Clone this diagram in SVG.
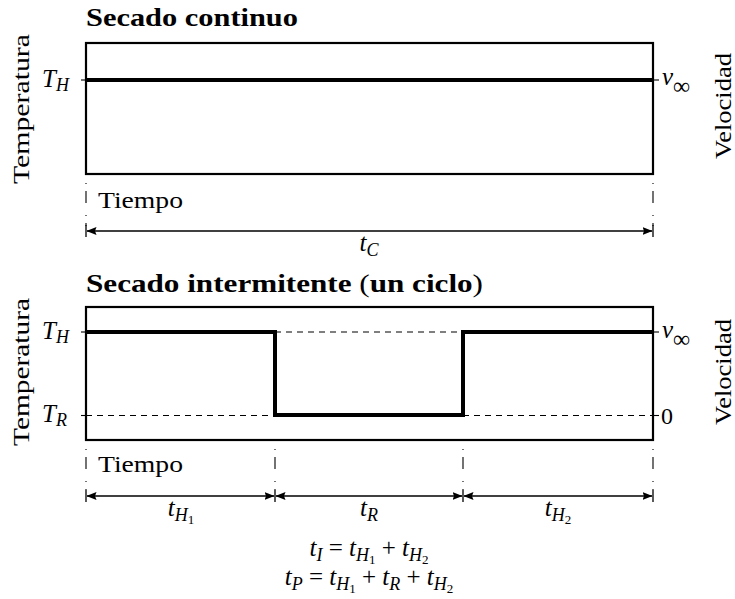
<svg xmlns="http://www.w3.org/2000/svg" width="735" height="599" viewBox="0 0 735 599">
<defs>
<marker id="arr" viewBox="0 0 10 8" refX="9.5" refY="4" markerWidth="10" markerHeight="8" markerUnits="userSpaceOnUse" orient="auto-start-reverse">
<path d="M0,0 L10,4 L0,8 L1.5,4 Z" fill="#000"/>
</marker>
</defs>

<g id="panel-continuo">
<text x="86" y="26" font-family="Times New Roman" font-size="25" font-weight="bold" textLength="212" lengthAdjust="spacingAndGlyphs">Secado continuo</text>
<rect x="86" y="43" width="567" height="131" fill="none" stroke="#000" stroke-width="2.2"/>
<line x1="86" y1="80" x2="653" y2="80" stroke="#000" stroke-width="4"/>
<g stroke="#000" stroke-width="1.1">
<line x1="81" y1="80" x2="86" y2="80"/>
<line x1="653" y1="80" x2="659" y2="80"/>
</g>
<text x="42" y="87" font-family="Times New Roman" font-size="25" font-style="italic">T<tspan font-size="18" dy="4">H</tspan></text>
<text x="662" y="85" font-family="Times New Roman" font-size="25" font-style="italic">v<tspan font-style="normal" font-size="24" dy="9">&#8734;</tspan></text>
<text transform="translate(29,109) rotate(-90)" text-anchor="middle" font-family="Times New Roman" font-size="24" textLength="150" lengthAdjust="spacingAndGlyphs">Temperatura</text>
<text transform="translate(731,106) rotate(-90)" text-anchor="middle" font-family="Times New Roman" font-size="24" textLength="106" lengthAdjust="spacingAndGlyphs">Velocidad</text>
<text x="98" y="208" font-family="Times New Roman" font-size="24" textLength="85" lengthAdjust="spacingAndGlyphs">Tiempo</text>
<text x="369" y="251" text-anchor="middle" font-family="Times New Roman" font-size="25" font-style="italic">t<tspan font-size="18" dy="5">C</tspan></text>
</g>

<g id="panel-intermitente">
<text x="86" y="292" font-family="Times New Roman" font-size="25" font-weight="bold" textLength="397" lengthAdjust="spacingAndGlyphs">Secado intermitente <tspan font-weight="normal">(</tspan>un ciclo<tspan font-weight="normal">)</tspan></text>
<rect x="86" y="307" width="567" height="133" fill="none" stroke="#000" stroke-width="2.2"/>
<g stroke="#000" stroke-width="1.1" stroke-dasharray="6 5">
<line x1="275" y1="332" x2="463" y2="332"/>
<line x1="86" y1="415.5" x2="275" y2="415.5"/>
<line x1="463" y1="415.5" x2="653" y2="415.5"/>
</g>
<polyline points="86,332 275,332 275,415 463,415 463,332 653,332" fill="none" stroke="#000" stroke-width="4"/>
<g stroke="#000" stroke-width="1.1">
<line x1="81" y1="332" x2="86" y2="332"/>
<line x1="653" y1="332" x2="659" y2="332"/>
<line x1="81" y1="415.5" x2="86" y2="415.5"/>
<line x1="653" y1="415.5" x2="659" y2="415.5"/>
</g>
<text x="42" y="339" font-family="Times New Roman" font-size="25" font-style="italic">T<tspan font-size="18" dy="4">H</tspan></text>
<text x="42" y="422" font-family="Times New Roman" font-size="25" font-style="italic">T<tspan font-size="18" dy="4">R</tspan></text>
<text x="662" y="338" font-family="Times New Roman" font-size="25" font-style="italic">v<tspan font-style="normal" font-size="24" dy="9">&#8734;</tspan></text>
<text x="661" y="424" font-family="Times New Roman" font-size="24">0</text>
<text transform="translate(29,372) rotate(-90)" text-anchor="middle" font-family="Times New Roman" font-size="24" textLength="148" lengthAdjust="spacingAndGlyphs">Temperatura</text>
<text transform="translate(731,372) rotate(-90)" text-anchor="middle" font-family="Times New Roman" font-size="24" textLength="106" lengthAdjust="spacingAndGlyphs">Velocidad</text>
<text x="98" y="472" font-family="Times New Roman" font-size="24" textLength="85" lengthAdjust="spacingAndGlyphs">Tiempo</text>
<text x="181" y="516" text-anchor="middle" font-family="Times New Roman" font-size="25" font-style="italic">t<tspan font-size="18" dy="5">H</tspan><tspan font-size="13" font-style="normal" dy="3">1</tspan></text>
<text x="369" y="516" text-anchor="middle" font-family="Times New Roman" font-size="25" font-style="italic">t<tspan font-size="18" dy="5">R</tspan></text>
<text x="558" y="516" text-anchor="middle" font-family="Times New Roman" font-size="25" font-style="italic">t<tspan font-size="18" dy="5">H</tspan><tspan font-size="13" font-style="normal" dy="3">2</tspan></text>
</g>

<g id="equations">
<text x="369" y="556" text-anchor="middle" font-family="Times New Roman" font-size="25" font-style="italic">t<tspan font-size="18" dy="5">I</tspan><tspan font-style="normal" dy="-5"> = </tspan>t<tspan font-size="18" dy="5">H</tspan><tspan font-size="13" font-style="normal" dy="3">1</tspan><tspan font-style="normal" dy="-8"> + </tspan>t<tspan font-size="18" dy="5">H</tspan><tspan font-size="13" font-style="normal" dy="3">2</tspan></text>
<text x="369" y="585" text-anchor="middle" font-family="Times New Roman" font-size="25" font-style="italic">t<tspan font-size="18" dy="5">P</tspan><tspan font-style="normal" dy="-5"> = </tspan>t<tspan font-size="18" dy="5">H</tspan><tspan font-size="13" font-style="normal" dy="3">1</tspan><tspan font-style="normal" dy="-8"> + </tspan>t<tspan font-size="18" dy="5">R</tspan><tspan font-style="normal" dy="-5"> + </tspan>t<tspan font-size="18" dy="5">H</tspan><tspan font-size="13" font-style="normal" dy="3">2</tspan></text>
</g>

<g id="connectors" stroke="#000">
<g stroke-width="1.1" stroke-dasharray="1 7 12 12">
<line x1="86" y1="183" x2="86" y2="226"/>
<line x1="653" y1="183" x2="653" y2="226"/>
<line x1="86" y1="449" x2="86" y2="490"/>
<line x1="275" y1="449" x2="275" y2="490"/>
<line x1="463" y1="449" x2="463" y2="490"/>
<line x1="653" y1="449" x2="653" y2="490"/>
</g>
<g stroke-width="1.3">
<line x1="86" y1="225" x2="86" y2="237"/>
<line x1="653" y1="225" x2="653" y2="237"/>
<line x1="86" y1="490" x2="86" y2="502"/>
<line x1="275" y1="490" x2="275" y2="502"/>
<line x1="463" y1="490" x2="463" y2="502"/>
<line x1="653" y1="490" x2="653" y2="502"/>
</g>
<g stroke-width="1.3" marker-start="url(#arr)" marker-end="url(#arr)">
<line x1="87" y1="231" x2="652" y2="231"/>
<line x1="87" y1="496" x2="274" y2="496"/>
<line x1="276" y1="496" x2="462" y2="496"/>
<line x1="464" y1="496" x2="652" y2="496"/>
</g>
</g>
</svg>
